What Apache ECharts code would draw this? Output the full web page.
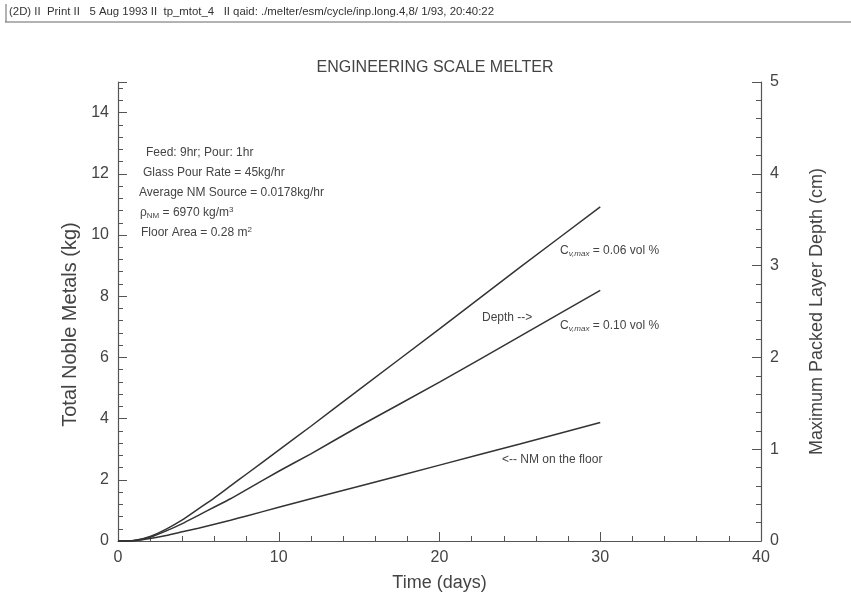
<!DOCTYPE html>
<html>
<head>
<meta charset="utf-8">
<script src="https://cdn.jsdelivr.net/npm/echarts@6/dist/echarts.min.js"></script>
<style>html,body{margin:0;padding:0;background:#fff}#c{width:851px;height:602px}</style>
</head>
<body>
<div id="c"></div>
<script>
// ---- data ----
const days = [0, 1, 2, 3, 4, 5, 6, 7, 8, 10, 12, 15, 20, 25, 30];
// Max packed layer depth (cm), right axis
const depthCv006 = [0, 0.005, 0.05, 0.13, 0.23, 0.35, 0.47, 0.60, 0.73, 0.99, 1.25, 1.65, 2.31, 2.98, 3.64];
const depthCv010 = [0, 0.005, 0.04, 0.11, 0.19, 0.28, 0.37, 0.46, 0.56, 0.76, 0.95, 1.25, 1.73, 2.23, 2.73];
// Total noble metals on the floor (kg), left axis
const nmFloor = [0, 0.01, 0.08, 0.18, 0.30, 0.42, 0.55, 0.68, 0.82, 1.10, 1.38, 1.79, 2.48, 3.17, 3.87];

const headerText = '(2D) II  Print II   5 Aug 1993 II  tp_mtot_4   II qaid: ./melter/esm/cycle/inp.long.4,8/ 1/93, 20:40:22';
const titleText = 'ENGINEERING SCALE MELTER';
const notes = ['Feed: 9hr; Pour: 1hr', 'Glass Pour Rate = 45kg/hr', 'Average NM Source = 0.0178kg/hr'];

const pairs = (xs, ys) => xs.map((x, i) => [x, ys[i]]);
const FONT = '"Liberation Sans", Arial, Helvetica, sans-serif';
const AX = '#555';
const TXT = '#444';
const NOTE = '12px ' + FONT;
const SUB = '8px ' + FONT;

const chart = echarts.init(document.getElementById('c'));

function axisCommon() {
  return {
    axisLine: { show: true, lineStyle: { color: AX, width: 1.2 } },
    axisTick: { show: true, inside: true, length: 9, lineStyle: { color: AX, width: 1 } },
    minorTick: { show: true, splitNumber: 5, length: 5, lineStyle: { color: AX, width: 1 } },
    splitLine: { show: false },
    nameTextStyle: { color: TXT, fontSize: 18, fontFamily: FONT }
  };
}
const tickLabel = (extra) => Object.assign({ color: TXT, fontSize: 16, fontFamily: FONT, margin: 9 }, extra || {});

const lineStyle = { color: '#333', width: 1.5 };

chart.setOption({
  backgroundColor: '#fff',
  animation: false,
  title: {
    text: titleText,
    left: 430, top: 55, textAlign: 'center',
    textStyle: { color: TXT, fontSize: 16, fontWeight: 'normal', fontFamily: FONT }
  },
  grid: { left: 118, right: 90, top: 82, bottom: 61, containLabel: false },
  xAxis: Object.assign(axisCommon(), {
    type: 'value', min: 0, max: 40, interval: 10,
    name: 'Time (days)', nameLocation: 'middle', nameGap: 33,
    axisLabel: tickLabel({ margin: 9 })
  }),
  yAxis: [
    Object.assign(axisCommon(), {
      type: 'value', min: 0, max: 15, interval: 2, position: 'left',
      name: 'Total Noble Metals (kg)', nameLocation: 'middle', nameGap: 34, nameRotate: 90,
      nameTextStyle: { color: TXT, fontSize: 20, fontFamily: FONT, padding: [0, 26, 0, 0] },
      axisLabel: tickLabel({ showMaxLabel: false })
    }),
    Object.assign(axisCommon(), {
      type: 'value', min: 0, max: 5, interval: 1, position: 'right',
      name: 'Maximum Packed Layer Depth (cm)', nameLocation: 'middle', nameGap: 47, nameRotate: 90,
      axisLabel: tickLabel()
    })
  ],
  series: [
    { name: 'Cv,max = 0.06 vol %', type: 'line', yAxisIndex: 1, data: pairs(days, depthCv006),
      showSymbol: false, smooth: 0.2, lineStyle: lineStyle },
    { name: 'Cv,max = 0.10 vol %', type: 'line', yAxisIndex: 1, data: pairs(days, depthCv010),
      showSymbol: false, smooth: 0.2, lineStyle: lineStyle },
    { name: 'NM on the floor', type: 'line', yAxisIndex: 0, data: pairs(days, nmFloor),
      showSymbol: false, smooth: 0.2, lineStyle: lineStyle }
  ],
  graphic: [
    { type: 'text', left: 9, top: 6, style: { text: headerText, fill: '#333', font: '11.4px ' + FONT } },
    { type: 'line', shape: { x1: 5, y1: 22, x2: 851, y2: 22 }, style: { stroke: '#666', lineWidth: 1 } },
    { type: 'line', shape: { x1: 6, y1: 4, x2: 6, y2: 22 }, style: { stroke: '#666', lineWidth: 1 } },
    { type: 'text', x: 146, y: 153, style: { text: notes[0], fill: TXT, font: NOTE, textVerticalAlign: 'middle' } },
    { type: 'text', x: 143, y: 173, style: { text: notes[1], fill: TXT, font: NOTE, textVerticalAlign: 'middle' } },
    { type: 'text', x: 139, y: 193, style: { text: notes[2], fill: TXT, font: NOTE, textVerticalAlign: 'middle' } },
    { type: 'text', x: 140, y: 213, style: {
        text: '{a|ρ}{s|NM}{a| = 6970 kg/m}{p|3}', fill: TXT, textVerticalAlign: 'middle',
        rich: { a: { font: NOTE, fill: TXT }, s: { font: SUB, fill: TXT, padding: [6, 0, 0, 0] }, p: { font: SUB, fill: TXT, padding: [0, 0, 6, 0] } } } },
    { type: 'text', x: 141, y: 233, style: {
        text: '{a|Floor Area = 0.28 m}{p|2}', fill: TXT, textVerticalAlign: 'middle',
        rich: { a: { font: NOTE, fill: TXT }, p: { font: SUB, fill: TXT, padding: [0, 0, 6, 0] } } } },
    { type: 'text', x: 560, y: 251, style: {
        text: '{a|C}{s|v,max}{a| = 0.06 vol %}', textVerticalAlign: 'middle',
        rich: { a: { font: NOTE, fill: TXT }, s: { font: 'italic ' + SUB, fill: TXT, padding: [6, 0, 0, 0] } } } },
    { type: 'text', x: 560, y: 326, style: {
        text: '{a|C}{s|v,max}{a| = 0.10 vol %}', textVerticalAlign: 'middle',
        rich: { a: { font: NOTE, fill: TXT }, s: { font: 'italic ' + SUB, fill: TXT, padding: [6, 0, 0, 0] } } } },
    { type: 'text', x: 482, y: 318, style: { text: 'Depth -->', fill: TXT, font: NOTE, textVerticalAlign: 'middle' } },
    { type: 'text', x: 502, y: 460, style: { text: '<-- NM on the floor', fill: TXT, font: NOTE, textVerticalAlign: 'middle' } }
  ]
});
</script>
</body>
</html>
